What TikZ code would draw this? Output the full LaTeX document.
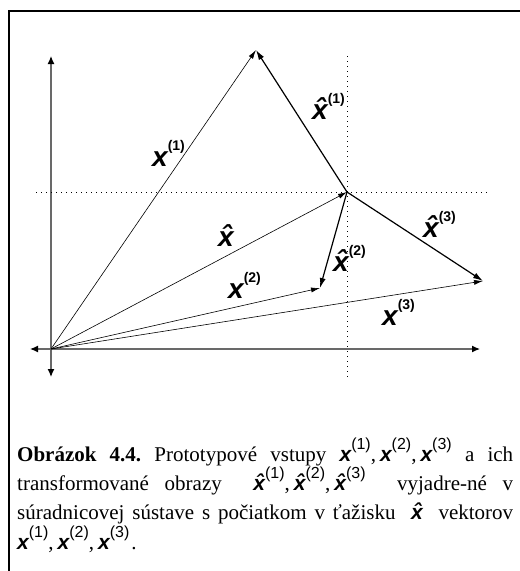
\documentclass[tikz,border=0pt]{standalone}
\usepackage{fontspec}
\setmainfont{Liberation Serif}
\setsansfont{Liberation Sans}
\usepackage{tikz}
\usetikzlibrary{arrows.meta}
\definecolor{osa}{RGB}{105,105,105}
\frenchspacing
% vektor x v obrazku a v popise
\newcommand{\bx}{\sffamily\bfseries\itshape}
\newcommand{\vlab}[2]{{\bx #1}\raisebox{16pt}{\fontsize{14}{14}\selectfont\sffamily\bfseries(#2)}}
\newcommand{\cx}[2]{{\bx #1}\raisebox{12pt}{\fontsize{16}{16}\selectfont\sffamily(#2)}}

\begin{document}
\begin{tikzpicture}[x=1pt,y=-1pt,
    osa/.style={draw=osa,line width=1.2pt,
      {Latex[length=8pt,width=7pt,color=black]}-{Latex[length=8pt,width=7pt,color=black]}},
    vek/.style={-{Latex[length=9pt,width=5pt]},line width=0.6pt},
    rozdiel/.style={-{Latex[length=10pt,width=6pt]},line width=1.2pt},
    bodky/.style={dash pattern=on 1pt off 4pt,line width=0.8pt},
    lbl/.style={anchor=base west,inner sep=0pt,font=\fontsize{28}{28}\selectfont},
    popis/.style={anchor=base west,inner sep=0pt,font=\fontsize{21}{21}\selectfont}]
  \useasboundingbox (0,0) rectangle (520,571);
  % ram
  \draw[line width=2pt] (9,571) -- (9,11) -- (520,11);
  % body: pociatok, vstupy, tazisko
  \coordinate (O) at (51,349);
  \coordinate (X1) at (256,50);
  \coordinate (X2) at (320,288);
  \coordinate (X3) at (483,281);
  \coordinate (T) at (347,192);
  \coordinate (ydole) at (51,377);
  \coordinate (yhore) at (51,56);
  \coordinate (xlavo) at (30,349);
  \coordinate (xpravo) at (480,349);
  \coordinate (hlavo) at (36,192);
  \coordinate (hpravo) at (490,192);
  \coordinate (vhore) at (347,56);
  \coordinate (vdole) at (347,380);
  \draw[osa] (ydole) -- (yhore);
  \draw[osa] (xlavo) -- (xpravo);
  \draw[bodky] (hlavo) -- (hpravo);
  \draw[bodky] (vhore) -- (vdole);
  \foreach \p in {X1,X2,X3,T}{
    \draw[vek] (O) -- (\p);}
  \foreach \p in {X1,X2,X3}{
    \draw[rozdiel] (T) -- (\p);}
  \node[lbl] (lx1) at (152,166) {\vlab{x}{1}};
  \node[lbl] (lx2) at (228,298) {\vlab{x}{2}};
  \node[lbl] (lx3) at (382,325) {\vlab{x}{3}};
  \node[lbl] (lt) at (218,246) {\bx \^x};
  \node[lbl] (lh1) at (312,119) {\vlab{\^x}{1}};
  \node[lbl] (lh2) at (333,271) {\vlab{\^x}{2}};
  \node[lbl] (lh3) at (423,237) {\vlab{\^x}{3}};
  % popis obrazka
  \node[popis] (cap1) at (17,461) {\makebox[496pt][s]{\textbf{Obrázok 4.4.} Prototypové vstupy \cx{x}{1},\kern4pt\cx{x}{2},\kern4pt\cx{x}{3} a ich}};
  \node[popis] (cap2) at (17,490) {\makebox[496pt][s]{transformované obrazy \ \cx{\^x}{1},\kern4pt\cx{\^x}{2},\kern4pt\cx{\^x}{3} \ vyjadre-né v}};
  \node[popis] (cap3) at (17,519) {\makebox[496pt][s]{súradnicovej sústave s počiatkom v ťažisku \ {\bx \^x} \ vektorov}};
  \node[popis] (cap4) at (17,549) {\cx{x}{1},\kern4pt\cx{x}{2},\kern4pt\cx{x}{3}\kern2pt.};
\end{tikzpicture}
\end{document}
